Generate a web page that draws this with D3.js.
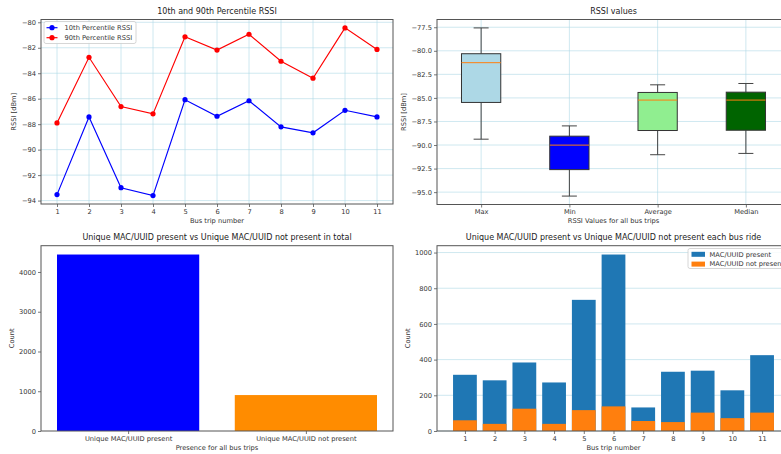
<!DOCTYPE html>
<html>
<head>
<meta charset="utf-8">
<script src="https://cdn.jsdelivr.net/npm/d3@7"></script>
<style>
  html, body { margin: 0; padding: 0; background: #fff; overflow: hidden; }
  svg { display: block; font-family: "DejaVu Sans", sans-serif; }
</style>
</head>
<body>
<svg id="fig" width="781" height="454"></svg>
<script>
// ---- data ----
const trips = [1, 2, 3, 4, 5, 6, 7, 8, 9, 10, 11];
const p10 = [-93.53, -87.43, -92.99, -93.61, -86.08, -87.38, -86.16, -88.21, -88.68, -86.91, -87.43];
const p90 = [-87.90, -82.75, -86.62, -87.19, -81.14, -82.18, -80.94, -83.06, -84.39, -80.44, -82.13];

const boxCategories = ["Max", "Min", "Average", "Median"];
const boxColors = ["#add8e6", "#0000ff", "#90ee90", "#006400"];
const whiskerLow = [-89.38, -95.42, -91.03, -90.89];
const q1 = [-85.48, -92.61, -88.46, -88.43];
const medians = [-81.26, -90.01, -85.23, -85.23];
const q3 = [-80.31, -89.06, -84.42, -84.39];
const whiskerHigh = [-77.57, -87.97, -83.61, -83.47];

const totalCategories = ["Unique MAC/UUID present", "Unique MAC/UUID not present"];
const totalCounts = [4439, 904];
const totalColors = ["#0000ff", "#ff8c00"];

const presentPerTrip = [315, 284, 384, 272, 735, 989, 132, 332, 338, 228, 425];
const notPresentPerTrip = [60, 40, 125, 40, 117, 138, 56, 50, 103, 72, 103];

const rssiTicks1 = [-94, -92, -90, -88, -86, -84, -82, -80];
const rssiTicks2 = [-95, -92.5, -90, -87.5, -85, -82.5, -80, -77.5];
const totalTicks = [0, 1000, 2000, 3000, 4000];
const tripCountTicks = [0, 200, 400, 600, 800, 1000];

// ---- styling ----
const TITLE_FS = 8;
const LABEL_FS = 6.7;
const TICK_FS = 6.7;
const GRID = "#add8e6";
const SPINE = "#555";
const TEXT = "#333";
const minus = s => String(s).replace("-", "\u2212");

const svg = d3.select("#fig");

// Panel frames (left, right, top, bottom) in pixels
const panels = {
  tl: { x0: 41, x1: 393, y0: 19.5, y1: 204 },
  tr: { x0: 437, x1: 790, y0: 19.5, y1: 204.5 },
  bl: { x0: 41, x1: 393, y0: 245.7, y1: 431 },
  br: { x0: 437, x1: 790, y0: 245.7, y1: 431 }
};

function pad(lo, hi, f = 0.05) { const r = hi - lo; return [lo - r * f, hi + r * f]; }

function frame(g, p) {
  g.append("rect").attr("x", p.x0).attr("y", p.y0)
    .attr("width", p.x1 - p.x0).attr("height", p.y1 - p.y0)
    .attr("fill", "none").attr("stroke", SPINE).attr("stroke-width", 1);
}

function styleAxis(sel) {
  sel.select(".domain").remove();
  sel.selectAll(".tick line").attr("stroke", SPINE).attr("stroke-width", 0.8);
  sel.selectAll(".tick text").attr("fill", TEXT).attr("font-size", TICK_FS)
    .attr("font-family", "DejaVu Sans");
}

function titles(g, p, title, xl, yl, xlY) {
  const cx = (p.x0 + p.x1) / 2, cy = (p.y0 + p.y1) / 2;
  g.append("text").attr("x", cx).attr("y", p.y0 - 5.5).attr("text-anchor", "middle")
    .attr("font-size", TITLE_FS).attr("fill", "#222").text(title);
  g.append("text").attr("x", cx).attr("y", xlY).attr("text-anchor", "middle")
    .attr("font-size", LABEL_FS).attr("fill", TEXT).text(xl);
  g.append("text").attr("transform", `translate(${yl.x},${cy}) rotate(-90)`)
    .attr("text-anchor", "middle").attr("font-size", LABEL_FS).attr("fill", TEXT).text(yl.t);
}

// ---- top-left: percentile lines ----
(function () {
  const p = panels.tl;
  const g = svg.append("g");
  const x = d3.scaleLinear().domain([0.5, 11.5]).range([p.x0, p.x1]);
  const all = p10.concat(p90);
  const y = d3.scaleLinear().domain(pad(d3.min(all), d3.max(all))).range([p.y1, p.y0]);

  // grid
  g.append("g").selectAll("line").data(trips).join("line")
    .attr("x1", d => x(d)).attr("x2", d => x(d)).attr("y1", p.y0).attr("y2", p.y1)
    .attr("stroke", GRID).attr("stroke-opacity", 0.65).attr("stroke-width", 0.9);
  g.append("g").selectAll("line").data(rssiTicks1).join("line")
    .attr("x1", p.x0).attr("x2", p.x1).attr("y1", d => y(d)).attr("y2", d => y(d))
    .attr("stroke", GRID).attr("stroke-opacity", 0.65).attr("stroke-width", 0.9);

  const line = d3.line().x((d, i) => x(trips[i])).y(d => y(d));
  [[p10, "#0000ff"], [p90, "#ff0000"]].forEach(([s, c]) => {
    g.append("path").datum(s).attr("d", line).attr("fill", "none")
      .attr("stroke", c).attr("stroke-width", 1.15);
    g.append("g").selectAll("circle").data(s).join("circle")
      .attr("cx", (d, i) => x(trips[i])).attr("cy", d => y(d)).attr("r", 2.6).attr("fill", c);
  });

  frame(g, p);
  g.append("g").attr("transform", `translate(0,${p.y1})`)
    .call(d3.axisBottom(x).tickValues(trips).tickSize(3).tickPadding(2)).call(styleAxis);
  g.append("g").attr("transform", `translate(${p.x0},0)`)
    .call(d3.axisLeft(y).tickValues(rssiTicks1).tickSize(3).tickPadding(2).tickFormat(d => minus(d)))
    .call(styleAxis);
  titles(g, p, "10th and 90th Percentile RSSI", "Bus trip number", { x: 16, t: "RSSI [dBm]" }, 223);

  // legend
  const lg = g.append("g");
  lg.append("rect").attr("x", 44).attr("y", 21.5).attr("width", 92).attr("height", 22)
    .attr("rx", 2).attr("fill", "#fff").attr("fill-opacity", 0.85)
    .attr("stroke", "#ccc").attr("stroke-width", 0.8);
  [["10th Percentile RSSI", "#0000ff"], ["90th Percentile RSSI", "#ff0000"]].forEach(([t, c], i) => {
    const yy = 27.7 + i * 10;
    lg.append("line").attr("x1", 46.5).attr("x2", 57.5).attr("y1", yy).attr("y2", yy)
      .attr("stroke", c).attr("stroke-width", 1.15);
    lg.append("circle").attr("cx", 52).attr("cy", yy).attr("r", 2.6).attr("fill", c);
    lg.append("text").attr("x", 64.5).attr("y", yy + 2.3).attr("font-size", LABEL_FS)
      .attr("fill", TEXT).text(t);
  });
})();

// ---- top-right: box plots ----
(function () {
  const p = panels.tr;
  const g = svg.append("g");
  const pos = boxCategories.map((d, i) => i + 1);
  const x = d3.scaleLinear().domain([0.5, 4.5]).range([p.x0, p.x1]);
  const y = d3.scaleLinear().domain(pad(d3.min(whiskerLow), d3.max(whiskerHigh))).range([p.y1, p.y0]);
  const step = x(2) - x(1);
  const bw = step * 0.445, cw = step * 0.17;

  g.append("g").selectAll("line").data(pos).join("line")
    .attr("x1", d => x(d)).attr("x2", d => x(d)).attr("y1", p.y0).attr("y2", p.y1)
    .attr("stroke", GRID).attr("stroke-opacity", 0.65).attr("stroke-width", 0.9);
  g.append("g").selectAll("line").data(rssiTicks2).join("line")
    .attr("x1", p.x0).attr("x2", p.x1).attr("y1", d => y(d)).attr("y2", d => y(d))
    .attr("stroke", GRID).attr("stroke-opacity", 0.65).attr("stroke-width", 0.9);

  const boxes = g.append("g").selectAll("g").data(boxCategories).join("g");
  const wk = "#444";
  boxes.append("line").attr("x1", (d, i) => x(pos[i])).attr("x2", (d, i) => x(pos[i]))
    .attr("y1", (d, i) => y(q3[i])).attr("y2", (d, i) => y(whiskerHigh[i])).attr("stroke", wk);
  boxes.append("line").attr("x1", (d, i) => x(pos[i])).attr("x2", (d, i) => x(pos[i]))
    .attr("y1", (d, i) => y(q1[i])).attr("y2", (d, i) => y(whiskerLow[i])).attr("stroke", wk);
  boxes.append("line").attr("x1", (d, i) => x(pos[i]) - cw / 2).attr("x2", (d, i) => x(pos[i]) + cw / 2)
    .attr("y1", (d, i) => y(whiskerHigh[i])).attr("y2", (d, i) => y(whiskerHigh[i])).attr("stroke", wk);
  boxes.append("line").attr("x1", (d, i) => x(pos[i]) - cw / 2).attr("x2", (d, i) => x(pos[i]) + cw / 2)
    .attr("y1", (d, i) => y(whiskerLow[i])).attr("y2", (d, i) => y(whiskerLow[i])).attr("stroke", wk);
  boxes.append("rect").attr("x", (d, i) => x(pos[i]) - bw / 2).attr("width", bw)
    .attr("y", (d, i) => y(q3[i])).attr("height", (d, i) => y(q1[i]) - y(q3[i]))
    .attr("fill", (d, i) => boxColors[i]).attr("stroke", "#333").attr("stroke-width", 1);
  boxes.append("line").attr("x1", (d, i) => x(pos[i]) - bw / 2).attr("x2", (d, i) => x(pos[i]) + bw / 2)
    .attr("y1", (d, i) => y(medians[i])).attr("y2", (d, i) => y(medians[i]))
    .attr("stroke", "#ff7f0e").attr("stroke-width", 1);

  frame(g, p);
  g.append("g").attr("transform", `translate(0,${p.y1})`)
    .call(d3.axisBottom(x).tickValues(pos).tickSize(3).tickPadding(2)
      .tickFormat(d => boxCategories[d - 1])).call(styleAxis);
  g.append("g").attr("transform", `translate(${p.x0},0)`)
    .call(d3.axisLeft(y).tickValues(rssiTicks2).tickSize(3).tickPadding(2)
      .tickFormat(d => minus(d3.format(".1f")(d)))).call(styleAxis);
  titles(g, p, "RSSI values", "RSSI Values for all bus trips", { x: 406, t: "RSSI [dBm]" }, 223);
})();

// ---- bottom-left: totals ----
(function () {
  const p = panels.bl;
  const g = svg.append("g");
  const x = d3.scaleLinear().domain([-0.49, 1.49]).range([p.x0, p.x1]);
  const y = d3.scaleLinear().domain([0, d3.max(totalCounts) * 1.05]).range([p.y1, p.y0]);
  const bw = x(0.8) - x(0);

  g.append("g").selectAll("rect").data(totalCounts).join("rect")
    .attr("x", (d, i) => x(i) - bw / 2).attr("width", bw)
    .attr("y", d => y(d)).attr("height", d => y(0) - y(d))
    .attr("fill", (d, i) => totalColors[i]);

  frame(g, p);
  g.append("g").attr("transform", `translate(0,${p.y1})`)
    .call(d3.axisBottom(x).tickValues([0, 1]).tickSize(3).tickPadding(2)
      .tickFormat(d => totalCategories[d])).call(styleAxis);
  g.append("g").attr("transform", `translate(${p.x0},0)`)
    .call(d3.axisLeft(y).tickValues(totalTicks).tickSize(3).tickPadding(2).tickFormat(d3.format("d")))
    .call(styleAxis);
  titles(g, p, "Unique MAC/UUID present vs Unique MAC/UUID not present in total",
    "Presence for all bus trips", { x: 14, t: "Count" }, 449.5);
})();

// ---- bottom-right: per trip ----
(function () {
  const p = panels.br;
  const g = svg.append("g");
  const x = d3.scaleLinear().domain([0.06, 11.94]).range([p.x0, p.x1]);
  const y = d3.scaleLinear().domain([0, d3.max(presentPerTrip) * 1.05]).range([p.y1, p.y0]);
  const bw = x(1.8) - x(1);

  g.append("g").selectAll("line").data(tripCountTicks).join("line")
    .attr("x1", p.x0).attr("x2", p.x1).attr("y1", d => y(d)).attr("y2", d => y(d))
    .attr("stroke", GRID).attr("stroke-opacity", 0.65).attr("stroke-width", 0.9);

  [[presentPerTrip, "#1f77b4"], [notPresentPerTrip, "#ff7f0e"]].forEach(([s, c]) => {
    g.append("g").selectAll("rect").data(s).join("rect")
      .attr("x", (d, i) => x(trips[i]) - bw / 2).attr("width", bw)
      .attr("y", d => y(d)).attr("height", d => y(0) - y(d))
      .attr("fill", c);
  });

  frame(g, p);
  g.append("g").attr("transform", `translate(0,${p.y1})`)
    .call(d3.axisBottom(x).tickValues(trips).tickSize(3).tickPadding(2)).call(styleAxis);
  g.append("g").attr("transform", `translate(${p.x0},0)`)
    .call(d3.axisLeft(y).tickValues(tripCountTicks).tickSize(3).tickPadding(2).tickFormat(d3.format("d")))
    .call(styleAxis);
  titles(g, p, "Unique MAC/UUID present vs Unique MAC/UUID not present each bus ride",
    "Bus trip number", { x: 410, t: "Count" }, 449.5);

  // legend (runs past the right edge of the figure)
  const lg = g.append("g");
  lg.append("rect").attr("x", 688).attr("y", 248.5).attr("width", 110).attr("height", 20)
    .attr("rx", 2).attr("fill", "#fff").attr("fill-opacity", 0.85)
    .attr("stroke", "#ccc").attr("stroke-width", 0.8);
  [["MAC/UUID present", "#1f77b4"], ["MAC/UUID not present", "#ff7f0e"]].forEach(([t, c], i) => {
    const yy = 254.3 + i * 9.8;
    lg.append("rect").attr("x", 691.5).attr("y", yy - 2.5).attr("width", 13.5).attr("height", 5)
      .attr("fill", c);
    lg.append("text").attr("x", 709.5).attr("y", yy + 2.3).attr("font-size", LABEL_FS)
      .attr("fill", TEXT).text(t);
  });
})();
</script>
</body>
</html>
